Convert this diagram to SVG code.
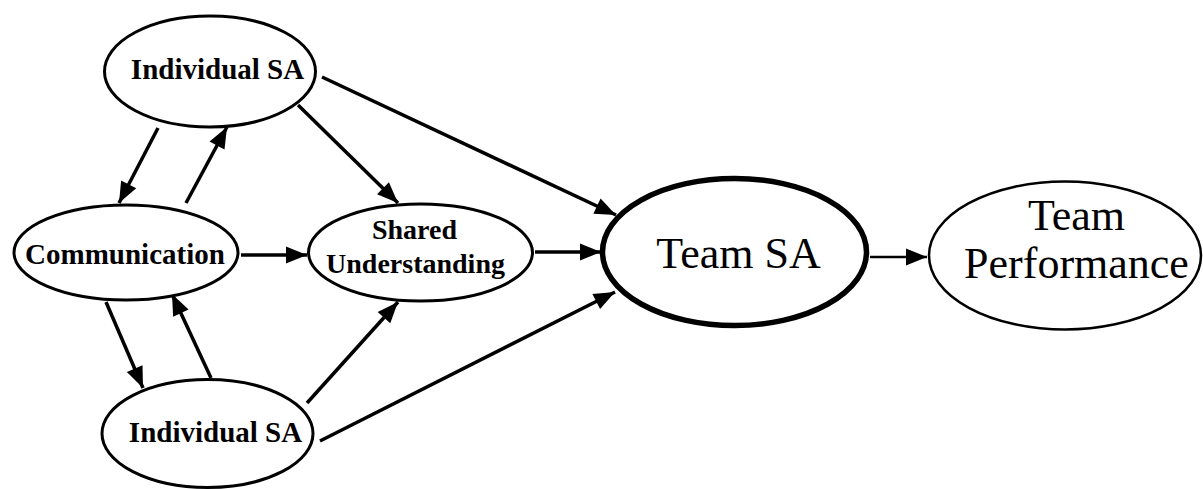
<svg xmlns="http://www.w3.org/2000/svg" width="1203" height="489" viewBox="0 0 1203 489">
  <defs>
    <style>
      .node { fill: #fff; stroke: #000; stroke-width: 3; }
      .node.main { stroke-width: 5.5; }
      .node.thin { stroke-width: 2.5; }
      .lbl { font-family: "Liberation Serif", "Times New Roman", serif; font-weight: bold; font-size: 29px; fill: #000; text-anchor: middle; }
      .lbl.sm { font-size: 28px; }
      .lbl.big { font-weight: normal; font-size: 44px; }
      .edge { stroke: #000; stroke-width: 3.5; fill: none; marker-end: url(#head); }
      .edge.thin { stroke-width: 2.4; }
    </style>
    <!-- solid triangular arrowhead, sized in user units so it stays constant -->
    <marker id="head" markerUnits="userSpaceOnUse" markerWidth="22" markerHeight="18" refX="21" refY="8.5" orient="auto" overflow="visible">
      <path d="M0,0 L21,8.5 L0,17 Z" fill="#000"/>
    </marker>
  </defs>
  <rect width="1203" height="489" fill="#fff"/>

  <g id="connectors">
    <line class="edge" x1="158" y1="128" x2="119" y2="203"/>
    <line class="edge" x1="186" y1="203" x2="227" y2="127"/>
    <line class="edge" x1="298" y1="105" x2="398" y2="203"/>
    <line class="edge" x1="322" y1="77" x2="616" y2="215"/>
    <line class="edge" x1="241" y1="255" x2="307" y2="255"/>
    <line class="edge" x1="106" y1="302" x2="143" y2="388"/>
    <line class="edge" x1="211" y1="378" x2="172" y2="294"/>
    <line class="edge" x1="307" y1="403" x2="398" y2="302"/>
    <line class="edge" x1="320" y1="441" x2="615" y2="292"/>
    <line class="edge" x1="535" y1="252" x2="601" y2="252"/>
    <line class="edge thin" x1="870" y1="257" x2="927" y2="257"/>
  </g>

  <g id="individual-sa-top">
    <ellipse class="node" cx="210" cy="71.5" rx="105.5" ry="55.5"/>
    <text class="lbl" x="217.5" y="79">Individual SA</text>
  </g>
  <g id="communication">
    <ellipse class="node" cx="126" cy="252.5" rx="112" ry="47.5"/>
    <text class="lbl" x="125" y="264">Communication</text>
  </g>
  <g id="shared-understanding">
    <ellipse class="node" cx="420.5" cy="252.5" rx="112" ry="48.5"/>
    <text class="lbl sm" x="414.5" y="239">Shared</text>
    <text class="lbl sm" x="415.5" y="273">Understanding</text>
  </g>
  <g id="individual-sa-bottom">
    <ellipse class="node" cx="207.5" cy="433.5" rx="105.5" ry="54"/>
    <text class="lbl" x="215.5" y="442">Individual SA</text>
  </g>
  <g id="team-sa">
    <ellipse class="node main" cx="734.5" cy="252" rx="132" ry="73.5"/>
    <text class="lbl big" x="738.5" y="268">Team SA</text>
  </g>
  <g id="team-performance">
    <ellipse class="node thin" cx="1065" cy="255.5" rx="136" ry="74"/>
    <text class="lbl big" x="1076.5" y="230">Team</text>
    <text class="lbl big" x="1076.5" y="278">Performance</text>
  </g>
</svg>
